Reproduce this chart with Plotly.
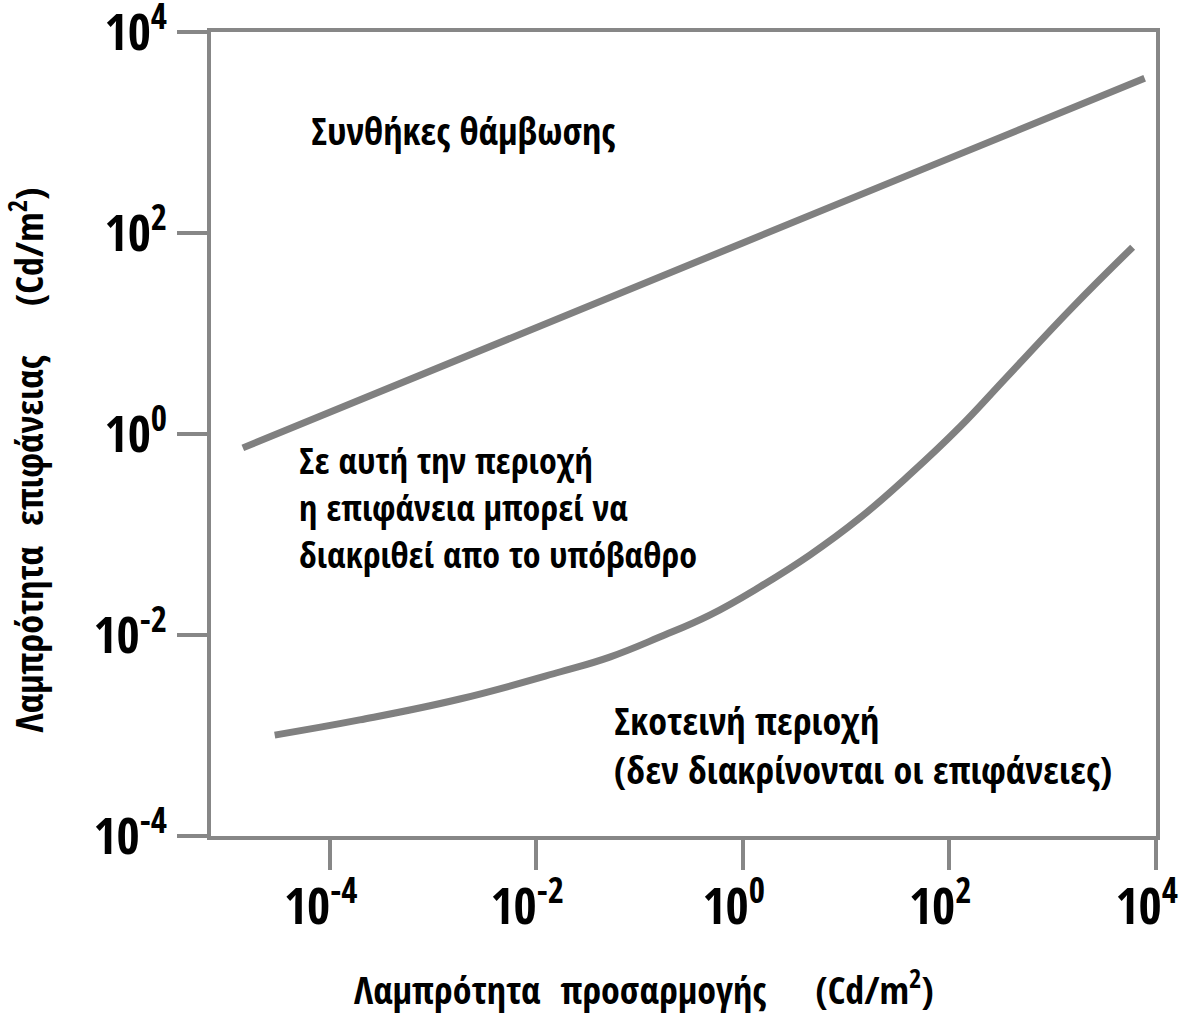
import plotly.graph_objects as go

# Adaptation luminance (cd/m²) vs. surface luminance (cd/m²), log-log
glare_x = [1.44e-5, 1e-4, 1e-2, 1, 100, 7820]
glare_y = [0.73, 1.64, 11.5, 80, 556, 3480]

dark_x = [2.93e-5, 1.95e-4, 1.82e-3, 0.0169, 0.0515, 0.157, 0.479, 1.46, 4.46,
          13.6, 41.4, 126, 361, 1570, 5980]
dark_y = [1.01e-3, 1.43e-3, 2.31e-3, 4.29e-3, 6.04e-3, 9.55e-3, 0.0158, 0.0301, 0.0625,
          0.146, 0.395, 1.17, 3.7, 18.4, 72.6]

tick_vals = [1e-4, 1e-2, 1, 1e2, 1e4]
tick_text = ["10<sup>-4</sup>", "10<sup>-2</sup>", "10<sup>0</sup>", "10<sup>2</sup>", "10<sup>4</sup>"]

NB = "\u00a0"
x_title = f"Λαμπρότητα{NB * 2}προσαρμογής{NB * 5}(Cd/m<sup>2</sup>)"
y_title = f"Λαμπρότητα{NB * 2}επιφάνειας{NB * 5}(Cd/m<sup>2</sup>)"

glare_label = "Συνθήκες θάμβωσης"
visible_label = ["Σε αυτή την περιοχή", "η επιφάνεια μπορεί να", "διακριθεί απο το υπόβαθρο"]
dark_label = ["Σκοτεινή περιοχή", "(δεν διακρίνονται οι επιφάνειες)"]

FONT = "Open Sans Condensed, Roboto Condensed, DejaVu Sans Condensed, sans-serif"
LINE = "#808080"
FRAME = "#878787"

W, H = 1184, 1017
L, R, T, B = 211, 28, 32, 181
PW, PH = W - L - R, H - T - B


def px_to_paper(px, py):
    return (px - L) / PW, (H - B - py) / PH


def label(text, px, py, size, xanchor="left", yanchor="middle", angle=0):
    ax, ay = px_to_paper(px, py)
    return dict(text=text, x=ax, y=ay, xref="paper", yref="paper",
                xanchor=xanchor, yanchor=yanchor, align="left", showarrow=False,
                textangle=angle,
                font=dict(family=FONT, size=size, color="black", weight="bold"))


fig = go.Figure()
fig.add_trace(go.Scatter(x=glare_x, y=glare_y, mode="lines",
                         line=dict(color=LINE, width=7), hoverinfo="skip"))
fig.add_trace(go.Scatter(x=dark_x, y=dark_y, mode="lines",
                         line=dict(color=LINE, width=7, shape="spline", smoothing=1.2),
                         hoverinfo="skip"))

annotations = [
    label(glare_label, 309, 130, 38),
    label("<br>".join(visible_label), 297, 507, 36),
    label("<br>".join(dark_label), 612, 744, 38),
    label(x_title, 352, H, 38, yanchor="bottom"),
    label(y_title, 27, 735, 38, xanchor="center", yanchor="bottom", angle=-90),
]

axis_common = dict(
    type="log", tickvals=tick_vals, ticktext=tick_text,
    showgrid=False, zeroline=False, automargin=False,
    showline=True, linecolor=FRAME, linewidth=4, mirror=True,
    ticks="outside", ticklen=30, tickwidth=4, tickcolor=FRAME,
    ticklabeloverflow="allow",
    tickfont=dict(family=FONT, size=50, color="black", weight="bold"),
)

fig.update_layout(
    width=W, height=H, autosize=False,
    margin=dict(l=L, r=R, t=T, b=B, pad=0),
    paper_bgcolor="white", plot_bgcolor="white",
    showlegend=False,
    xaxis=dict(range=[-5.15, 4.003], ticklabelshift=-9, ticklabelstandoff=-6, **axis_common),
    yaxis=dict(range=[-4.0, 4.003], **axis_common),
    annotations=annotations,
)

fig.write_html("out.html", config={"displayModeBar": False})
